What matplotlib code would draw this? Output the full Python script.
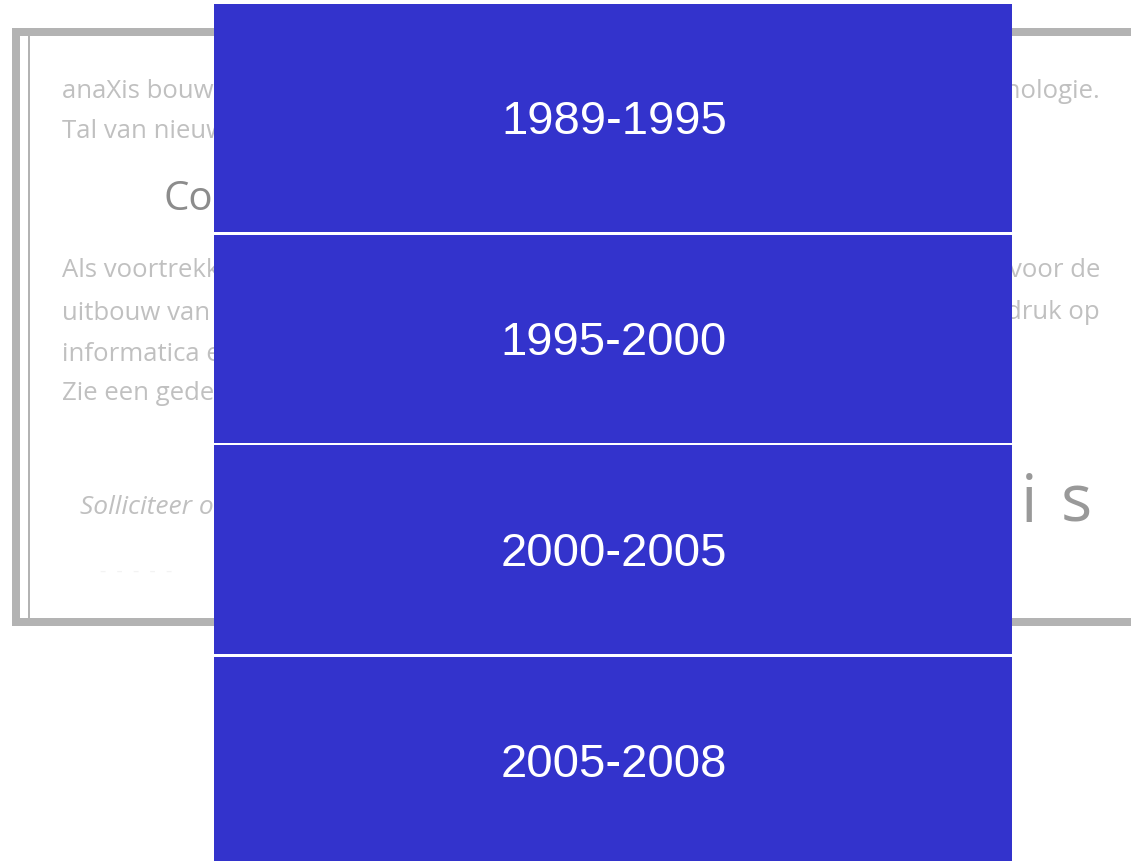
import matplotlib.pyplot as plt
from matplotlib.patches import Rectangle

# timeline periods shown in the blue boxes
periods = ["1989-1995", "1995-2000", "2000-2005", "2005-2008"]

# background page text (left part / right part of each line)
body_left = ["anaXis bouwt al jaren aan", "Tal van nieuwe projecten",
             "Als voortrekker in de", "uitbouw van de dienstverlening",
             "informatica en netwerken", "Zie een gedetailleerd overzicht"]
body_left_y = [92, 131, 271, 314, 355, 394]
body_right = ["technologie.", "voor de", "druk op"]
body_right_y = [92, 271, 313]
# spaced logo letters peeking out right of the boxes
logo_letters = ["X", "i", "s"]
logo_x = [983, 1029.5, 1076]

W, H = 1131, 862
blue = "#3333cc"
frame_gray = "#b3b3b3"
text_gray = "#c0c0c0"

fig = plt.figure(figsize=(W / 100, H / 100), dpi=100)
ax = fig.add_axes([0, 0, 1, 1])
ax.set_xlim(0, W)
ax.set_ylim(H, 0)
ax.axis("off")

# page frame
ax.add_patch(Rectangle((12, 29), W, 598, color=frame_gray, lw=0, zorder=1))
ax.add_patch(Rectangle((20, 37), W, 582, color="white", lw=0, zorder=1))
ax.add_patch(Rectangle((28, 37), 1.6, 582, color=frame_gray, lw=0, zorder=1))

for s, y in zip(body_left, body_left_y):
    ax.text(62, y, s, fontsize=18.5, color=text_gray, family="Open Sans",
            va="center", ha="left", zorder=2)
for s, y in zip(body_right, body_right_y):
    ax.text(1100, y, s, fontsize=18.5, color=text_gray, family="Open Sans",
            va="center", ha="right", zorder=2)

ax.text(164, 200, "Contact", fontsize=29, color="#8c8c8c", family="Open Sans",
        va="center", ha="left", zorder=2)
ax.text(80, 508, "Solliciteer online", fontsize=19, color=text_gray,
        family="Open Sans", style="italic", va="center", ha="left", zorder=2)
ax.text(100, 572, "-  -  -  -  -", fontsize=14, color="#f3f3f3",
        family="Open Sans", va="center", ha="left", zorder=2)
for ch, x in zip(logo_letters, logo_x):
    ax.text(x, 522, ch, fontsize=47, color="#999999", family="Open Sans",
            va="baseline", ha="center", zorder=2)

# blue period boxes
box_left, box_right = 214, 1012
box_tops = [5, 235.5, 446.3, 658]
box_bottoms = [233, 444, 655, 867]
for label, top, bot in zip(periods, box_tops, box_bottoms):
    ax.add_patch(Rectangle((box_left, top), box_right - box_left, bot - top,
                           color=blue, lw=0, zorder=3))
    ax.text((box_left + box_right) / 2 + 1, (top + bot) / 2 + 3, label,
            fontsize=34, color="white", family="Liberation Sans",
            ha="center", va="center", zorder=4)

fig.savefig("out.png", dpi=100)
